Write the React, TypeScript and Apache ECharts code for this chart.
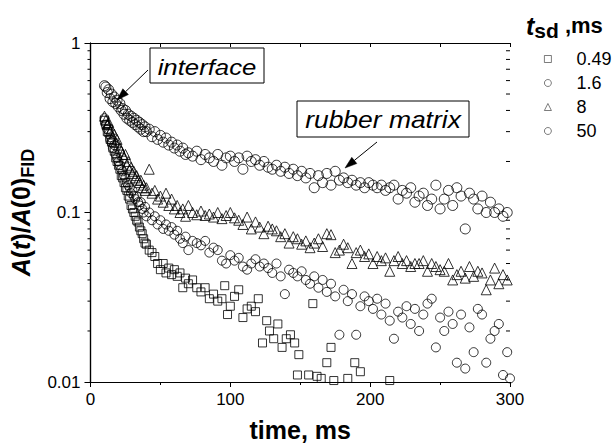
import React, { useEffect, useRef } from "react";
import * as echarts from "echarts";

// ---- data (t in ms, normalized amplitude) ----
const legendNames = ["0.49", "1.6", "8", "50"];

const s049: [number, number][] = [
  [10, 0.35], [11, 0.33], [12, 0.3], [13, 0.31], [14, 0.27], [15, 0.26], [16, 0.24], [17, 0.23], [18, 0.21], [19, 0.2],
  [20, 0.19], [21, 0.18], [22, 0.165], [23, 0.16], [24, 0.15], [25, 0.14], [26, 0.135], [27, 0.125], [28, 0.12], [29, 0.11],
  [30, 0.105], [31, 0.1], [32, 0.095], [33, 0.09], [34, 0.088], [35, 0.082], [36, 0.078], [37, 0.075], [38, 0.07], [39, 0.066],
  [40, 0.065], [42, 0.06], [44, 0.058], [46, 0.055], [48, 0.05], [50, 0.046], [52, 0.05], [54, 0.044], [56, 0.047], [58, 0.043],
  [60, 0.046], [62, 0.042], [64, 0.044], [66, 0.036], [68, 0.041], [70, 0.038], [73, 0.04], [76, 0.036], [79, 0.034], [82, 0.036],
  [85, 0.031], [88, 0.033], [91, 0.03], [94, 0.031], [96, 0.037], [98, 0.025], [100, 0.028], [103, 0.032], [106, 0.035], [109, 0.024],
  [112, 0.027], [115, 0.028], [118, 0.026], [120, 0.031], [123, 0.017], [126, 0.023], [128, 0.02], [131, 0.018], [134, 0.022], [137, 0.016],
  [140, 0.018], [143, 0.019], [146, 0.017], [149, 0.0145], [148, 0.011], [156, 0.011], [159, 0.029], [162, 0.0108], [165, 0.0105], [169, 0.013],
  [172, 0.016], [174, 0.0102], [184, 0.0105], [189, 0.013], [193, 0.0115], [214, 0.0102],
];

const s16: [number, number][] = [
  [10, 0.36], [11, 0.33], [12, 0.31], [13, 0.29], [14, 0.27], [15, 0.26], [16, 0.24], [17, 0.25], [18, 0.22], [19, 0.21],
  [20, 0.2], [21, 0.19], [22, 0.18], [23, 0.175], [24, 0.165], [25, 0.16], [26, 0.15], [27, 0.145], [28, 0.14], [29, 0.13],
  [30, 0.135], [31, 0.125], [32, 0.12], [33, 0.125], [34, 0.115], [35, 0.11], [36, 0.115], [37, 0.105], [38, 0.1], [39, 0.108],
  [40, 0.095], [42, 0.1], [44, 0.09], [46, 0.095], [48, 0.085], [50, 0.09], [52, 0.08], [54, 0.085], [56, 0.078], [58, 0.082],
  [60, 0.074], [62, 0.078], [64, 0.07], [66, 0.066], [68, 0.072], [70, 0.06], [73, 0.068], [76, 0.066], [79, 0.064], [82, 0.068],
  [85, 0.058], [88, 0.062], [91, 0.06], [94, 0.052], [97, 0.05], [100, 0.056], [103, 0.052], [106, 0.054], [109, 0.048], [112, 0.046],
  [115, 0.05], [118, 0.053], [121, 0.048], [124, 0.05], [127, 0.047], [130, 0.044], [133, 0.05], [136, 0.042], [139, 0.033], [142, 0.046],
  [145, 0.044], [148, 0.042], [151, 0.045], [154, 0.04], [157, 0.038], [160, 0.042], [163, 0.036], [166, 0.04], [169, 0.034], [172, 0.038],
  [175, 0.032], [178, 0.019], [181, 0.035], [184, 0.03], [187, 0.033], [190, 0.019], [193, 0.028], [196, 0.032], [199, 0.03], [202, 0.027],
  [205, 0.031], [208, 0.025], [211, 0.029], [214, 0.023], [217, 0.018], [220, 0.026], [223, 0.024], [226, 0.028], [229, 0.022], [232, 0.027],
  [235, 0.02], [238, 0.025], [241, 0.029], [244, 0.031], [247, 0.016], [250, 0.024], [253, 0.02], [256, 0.026], [259, 0.022], [262, 0.013],
  [265, 0.025], [268, 0.012], [271, 0.021], [274, 0.015], [277, 0.027], [280, 0.025], [283, 0.013], [286, 0.018], [289, 0.02], [292, 0.022],
  [295, 0.011], [298, 0.015], [300, 0.0105],
];

const s8: [number, number][] = [
  [10, 0.37], [11, 0.35], [12, 0.33], [13, 0.34], [14, 0.3], [15, 0.31], [16, 0.28], [17, 0.29], [18, 0.26], [19, 0.27],
  [20, 0.25], [21, 0.24], [22, 0.23], [23, 0.22], [24, 0.21], [25, 0.22], [26, 0.19], [27, 0.2], [28, 0.18], [29, 0.185],
  [30, 0.17], [31, 0.175], [32, 0.16], [33, 0.165], [34, 0.155], [35, 0.15], [36, 0.155], [37, 0.14], [38, 0.145], [39, 0.135],
  [40, 0.14], [42, 0.18], [44, 0.13], [46, 0.135], [48, 0.12], [50, 0.125], [52, 0.115], [54, 0.13], [56, 0.11], [58, 0.12],
  [60, 0.105], [62, 0.11], [64, 0.1], [66, 0.105], [68, 0.095], [70, 0.11], [73, 0.1], [76, 0.097], [79, 0.102], [82, 0.096],
  [85, 0.098], [88, 0.094], [91, 0.1], [94, 0.092], [97, 0.096], [100, 0.1], [103, 0.093], [106, 0.09], [109, 0.085], [112, 0.094],
  [115, 0.08], [118, 0.088], [121, 0.082], [124, 0.075], [127, 0.083], [130, 0.08], [133, 0.078], [136, 0.072], [139, 0.075], [142, 0.066],
  [145, 0.072], [148, 0.07], [151, 0.065], [154, 0.068], [157, 0.062], [160, 0.066], [163, 0.07], [166, 0.063], [169, 0.075], [172, 0.074],
  [175, 0.058], [178, 0.06], [181, 0.065], [184, 0.062], [187, 0.05], [190, 0.058], [193, 0.06], [196, 0.055], [199, 0.057], [202, 0.05],
  [205, 0.055], [208, 0.052], [211, 0.054], [214, 0.045], [217, 0.052], [220, 0.055], [223, 0.05], [226, 0.052], [229, 0.048], [232, 0.05],
  [235, 0.05], [238, 0.052], [241, 0.045], [244, 0.05], [247, 0.048], [250, 0.046], [253, 0.045], [256, 0.05], [259, 0.04], [262, 0.043],
  [265, 0.045], [268, 0.041], [271, 0.048], [274, 0.042], [277, 0.045], [280, 0.044], [283, 0.035], [286, 0.04], [289, 0.047], [292, 0.038],
  [295, 0.043], [298, 0.04],
];

const s50: [number, number][] = [
  [10, 0.56], [11, 0.55], [12, 0.51], [13, 0.53], [14, 0.47], [15, 0.5], [16, 0.45], [17, 0.48], [18, 0.44], [19, 0.46],
  [20, 0.42], [21, 0.44], [22, 0.4], [23, 0.41], [24, 0.38], [25, 0.4], [26, 0.36], [27, 0.38], [28, 0.35], [29, 0.37],
  [30, 0.34], [31, 0.36], [32, 0.33], [33, 0.35], [34, 0.32], [35, 0.34], [36, 0.31], [37, 0.33], [38, 0.3], [39, 0.32],
  [40, 0.3], [42, 0.31], [44, 0.28], [46, 0.3], [48, 0.27], [50, 0.285], [52, 0.26], [54, 0.275], [56, 0.25], [58, 0.26],
  [60, 0.24], [62, 0.25], [64, 0.23], [66, 0.24], [68, 0.22], [70, 0.225], [73, 0.215], [76, 0.23], [79, 0.205], [82, 0.22],
  [85, 0.21], [88, 0.2], [91, 0.22], [94, 0.19], [97, 0.21], [100, 0.215], [103, 0.2], [106, 0.21], [109, 0.18], [112, 0.215],
  [115, 0.2], [118, 0.205], [121, 0.19], [124, 0.2], [127, 0.185], [130, 0.18], [133, 0.19], [136, 0.175], [139, 0.185], [142, 0.17],
  [145, 0.18], [148, 0.165], [151, 0.175], [154, 0.16], [157, 0.17], [160, 0.14], [163, 0.165], [166, 0.15], [169, 0.17], [172, 0.145],
  [175, 0.175], [178, 0.155], [181, 0.16], [184, 0.15], [187, 0.155], [190, 0.145], [193, 0.15], [196, 0.14], [199, 0.15], [202, 0.145],
  [205, 0.14], [208, 0.145], [211, 0.135], [214, 0.14], [217, 0.145], [220, 0.12], [223, 0.135], [226, 0.13], [229, 0.14], [232, 0.115],
  [235, 0.125], [238, 0.13], [241, 0.11], [244, 0.12], [247, 0.145], [250, 0.105], [253, 0.12], [256, 0.135], [259, 0.11], [262, 0.14],
  [265, 0.125], [268, 0.08], [271, 0.13], [274, 0.12], [277, 0.105], [280, 0.125], [283, 0.1], [286, 0.115], [289, 0.1], [292, 0.105],
  [295, 0.095], [298, 0.1],
];

const xTicks = [0, 100, 200, 300];
const yTickLabels = ["0.01", "0.1", "1"];
const yMinorTicks = [0.02, 0.03, 0.04, 0.05, 0.06, 0.07, 0.08, 0.09, 0.2, 0.3, 0.4, 0.5, 0.6, 0.7, 0.8, 0.9];

const FONT = "Liberation Sans, Arial, sans-serif";
const INK = "#000";

function arrow(tail: [number, number], tip: [number, number], len: number, half: number) {
  const dx = tip[0] - tail[0];
  const dy = tip[1] - tail[1];
  const d = Math.hypot(dx, dy);
  const ux = dx / d, uy = dy / d;
  const bx = tip[0] - ux * len, by = tip[1] - uy * len;
  const nx = -uy, ny = ux;
  return [
    { type: "line", shape: { x1: tail[0], y1: tail[1], x2: bx, y2: by }, style: { stroke: INK, lineWidth: 1 } },
    {
      type: "polygon",
      shape: { points: [tip, [bx + nx * half, by + ny * half], [bx - nx * half, by - ny * half]] },
      style: { fill: INK, stroke: INK, lineWidth: 0.5 },
    },
  ];
}

function labelBox(x: number, y: number, w: number, h: number, text: string, size: number, sx: number) {
  return [
    { type: "rect", shape: { x, y, width: w, height: h }, style: { fill: "#fff", stroke: INK, lineWidth: 1 }, z: 10 },
    {
      type: "text",
      x: x + w / 2,
      y: y + h / 2 + 1,
      scaleX: sx,
      z: 11,
      style: {
        text,
        fill: INK,
        font: `italic ${size}px ${FONT}`,
        align: "center",
        verticalAlign: "middle",
      },
    },
  ];
}

const markerStyle = { color: "rgba(255,255,255,0)", borderColor: INK, borderWidth: 1 };

export default function App() {
  const ref = useRef<HTMLDivElement>(null);
  useEffect(() => {
    if (!ref.current) return;
    const chart = echarts.init(ref.current, null, { renderer: "svg" });
    const fmtY = (v: number) => {
      const s = String(Number(v.toPrecision(6)));
      return yTickLabels.includes(s) ? s : "";
    };
    chart.setOption({
      animation: false,
      backgroundColor: "#fff",
      grid: { left: 86, top: 43, right: 106, bottom: 62, containLabel: false },
      legend: {
        data: legendNames,
        orient: "vertical",
        left: 544,
        top: 50,
        padding: 0,
        itemWidth: 7,
        itemHeight: 7,
        itemGap: 6,
        selectedMode: false,
        itemStyle: { color: "rgba(255,255,255,0)", borderColor: "#333", borderWidth: 0.8 },
        textStyle: { fontSize: 18, fontFamily: FONT, color: INK, lineHeight: 17, padding: [0, 0, 0, 20] },
      },
      xAxis: [
        {
          type: "value",
          min: xTicks[0],
          max: xTicks[xTicks.length - 1],
          interval: 100,
          position: "bottom",
          name: "time, ms",
          nameLocation: "middle",
          nameGap: 35,
          nameTextStyle: { fontSize: 25, fontWeight: "bold", fontFamily: FONT, color: INK },
          axisLine: { show: true, lineStyle: { color: INK, width: 1.2 } },
          axisTick: { show: true, inside: false, length: 5, lineStyle: { color: INK } },
          minorTick: { show: true, splitNumber: 2, length: 3, lineStyle: { color: INK } },
          axisLabel: { fontSize: 17, fontFamily: FONT, color: INK, margin: 9 },
          splitLine: { show: false },
        },
        {
          type: "value",
          min: xTicks[0],
          max: xTicks[xTicks.length - 1],
          interval: 100,
          position: "top",
          axisLine: { show: true, lineStyle: { color: INK, width: 1.2 } },
          axisTick: { show: true, inside: true, length: 4, lineStyle: { color: INK } },
          minorTick: { show: true, splitNumber: 2, length: 4, lineStyle: { color: INK } },
          axisLabel: { show: false },
          splitLine: { show: false },
        },
      ],
      yAxis: [
        {
          type: "log",
          logBase: 10,
          min: 0.01,
          max: 1,
          position: "left",
          name: "{ai|A}{b|(}{ai|t}{b|)/}{ai|A}{b|(0)}{sub|FID}",
          nameLocation: "middle",
          nameGap: 46,
          nameRotate: 90,
          nameTextStyle: {
            rich: {
              ai: { fontSize: 25, fontWeight: "bold", fontStyle: "italic", fontFamily: FONT, color: INK, lineHeight: 32 },
              b: { fontSize: 25, fontWeight: "bold", fontFamily: FONT, color: INK, lineHeight: 32 },
              sub: { fontSize: 18, fontWeight: "bold", fontFamily: FONT, color: INK, lineHeight: 18, verticalAlign: "bottom" },
            },
          },
          axisLine: { show: true, lineStyle: { color: INK, width: 1.2 } },
          axisTick: { show: true, inside: false, length: 6, lineStyle: { color: INK } },
          axisLabel: { fontSize: 17, fontFamily: FONT, color: INK, margin: 10, formatter: fmtY },
          splitLine: { show: false },
        },
        {
          type: "log",
          logBase: 10,
          min: 0.01,
          max: 1,
          position: "right",
          axisLine: { show: true, lineStyle: { color: INK, width: 1.2 } },
          axisTick: { show: true, inside: true, length: 4, lineStyle: { color: INK } },
          axisLabel: { show: false },
          splitLine: { show: false },
        },
      ],
      series: [
        { name: "0.49", type: "scatter", symbol: "rect", symbolSize: 8, data: s049, itemStyle: markerStyle, clip: true },
        { name: "1.6", type: "scatter", symbol: "circle", symbolSize: 9, data: s16, itemStyle: markerStyle, clip: true },
        { name: "8", type: "scatter", symbol: "triangle", symbolSize: 10, data: s8, itemStyle: markerStyle, clip: true },
        { name: "50", type: "scatter", symbol: "circle", symbolSize: 10, data: s50, itemStyle: markerStyle, clip: true },
        {
          name: "minorTicks",
          type: "custom",
          silent: true,
          clip: false,
          data: yMinorTicks.map((v) => [xTicks[0], v]),
          renderItem: (_p: any, api: any) => {
            const v = api.value(1);
            const l = api.coord([xTicks[0], v]);
            const r = api.coord([xTicks[xTicks.length - 1], v]);
            return {
              type: "group",
              children: [
                { type: "line", shape: { x1: l[0] - 3, y1: l[1], x2: l[0], y2: l[1] }, style: { stroke: INK, lineWidth: 1 } },
                { type: "line", shape: { x1: r[0] - 4, y1: r[1], x2: r[0], y2: r[1] }, style: { stroke: INK, lineWidth: 1 } },
              ],
            };
          },
        },
      ],
      graphic: [
        ...labelBox(150, 48, 114, 35, "interface", 23, 1.12),
        ...labelBox(297, 101, 172, 36, "rubber matrix", 23, 1.15),
        ...arrow([148, 70], [117, 100], 12, 4),
        ...arrow([377, 142], [345, 168], 12, 4),
        {
          type: "text",
          left: 526,
          top: 13,
          style: {
            text: "{ti|t}{sub|sd}{b| ,ms}",
            rich: {
              ti: { fontSize: 25, fontWeight: "bold", fontStyle: "italic", fontFamily: FONT, fill: INK, lineHeight: 30 },
              b: { fontSize: 22, fontWeight: "bold", fontFamily: FONT, fill: INK, lineHeight: 30 },
              sub: { fontSize: 21, fontWeight: "bold", fontFamily: FONT, fill: INK, lineHeight: 21, verticalAlign: "bottom" },
            },
          },
        },
      ],
    });
    return () => chart.dispose();
  }, []);
  return <div ref={ref} style={{ position: "fixed", left: 0, top: 0, width: 616, height: 447 }} />;
}
